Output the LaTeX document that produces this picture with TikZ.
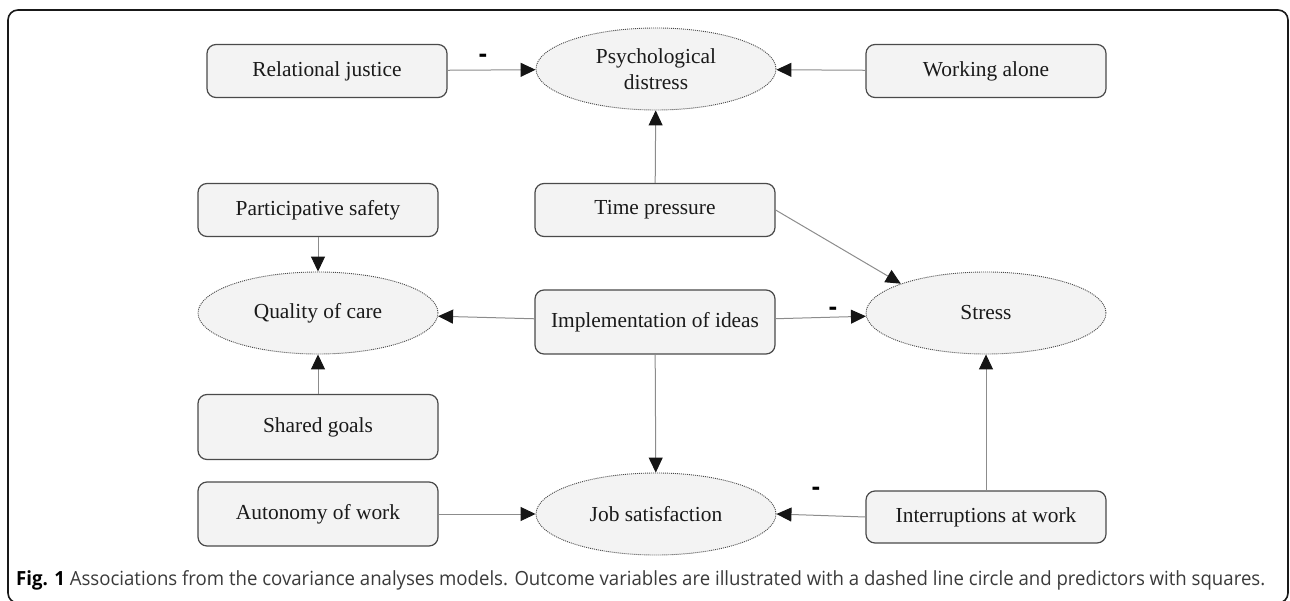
\documentclass[tikz,border=0pt]{standalone}
\usepackage{graphicx}
\usepackage{fontspec}
\setmainfont{Liberation Serif}
\newfontfamily\capfont{Open Sans}
\newfontfamily\minusfont{Liberation Sans}
\usetikzlibrary{arrows.meta,shapes.geometric}
\definecolor{boxfill}{HTML}{F3F3F3}
\definecolor{boxdraw}{HTML}{4A4A4A}
\definecolor{linegray}{HTML}{8C8C8C}
\definecolor{txt}{HTML}{1A1A1A}
\definecolor{captxt}{HTML}{3A3A3A}
\definecolor{tipcol}{HTML}{151515}
\begin{document}
\begin{tikzpicture}[x=1pt,y=-1pt,
  nodefont/.style={font=\fontsize{21.4}{25.7}\selectfont},
  predictor/.style={nodefont, draw=boxdraw, line width=1.2pt, fill=boxfill,
    rounded corners=9pt, minimum width=240pt, minimum height=53pt,
    inner sep=0pt, text=txt, align=center},
  outcome/.style={nodefont, ellipse, draw=boxdraw, line width=0.9pt,
    dash pattern=on 1pt off 1pt, fill=boxfill, minimum width=240pt,
    minimum height=82pt, inner sep=0pt, text=txt, align=center},
  conn/.style={draw=linegray, line width=1pt,
    -{Triangle[length=15pt,width=14pt,fill=tipcol,color=tipcol]}},
  minus/.style={font=\minusfont\fontsize{26}{26}\selectfont\bfseries, inner sep=0pt, text=black}
]
\useasboundingbox (0,0) rectangle (1290,601);
% frame
\draw[line width=1.6pt, draw=black!90, rounded corners=10pt] (8,10) rectangle (1288,603);

% nodes
\node[predictor] (RJ) at (327,71) {Relational justice};
\node[outcome] (PD) at (656,69) {Psychological\\distress};
\node[predictor] (WA) at (986,71) {Working alone};

\node[predictor] (PS) at (318,210) {Participative safety};
\node[predictor] (TP) at (655,210) {Time pressure};

\node[outcome] (QC) at (318,313) {Quality of care};
\node[predictor, minimum height=64pt] (II) at (655,322) {Implementation of ideas};
\node[outcome] (ST) at (986,313) {Stress};

\node[predictor, minimum height=65pt] (SG) at (318,427) {Shared goals};

\node[predictor, minimum height=64pt] (AW) at (318,514) {Autonomy of work};
\node[outcome] (JS) at (656,514) {Job satisfaction};
\node[predictor, minimum height=52pt] (IW) at (986,517) {Interruptions at work};

% connectors
\draw[conn] (RJ) -- (PD);
\draw[conn] (WA) -- (PD);
\draw[conn] (TP) -- (PD);
\draw[conn] (TP.east) -- (ST.north west);
\draw[conn] (II) -- (QC);
\draw[conn] (II) -- (ST);
\draw[conn] (II) -- (JS);
\draw[conn] (PS) -- (QC);
\draw[conn] (SG) -- (QC);
\draw[conn] (AW) -- (JS);
\draw[conn] (IW.west) -- (JS.east);
\draw[conn] (IW) -- (ST);

% minus labels
\node[minus] (m1) at (483,58) {-};
\node[minus] (m2) at (833,311) {-};
\node[minus] (m3) at (816,491) {-};

% caption
\node[anchor=west, inner sep=0pt, text=captxt] (cap) at (16,580)
  {\resizebox{1249pt}{\height}{\capfont\fontsize{19.5}{19.5}\selectfont\textcolor{black}{\textbf{Fig. 1}} Associations from the covariance analyses models. Outcome variables are illustrated with a dashed line circle and predictors with squares.}};
\end{tikzpicture}
\end{document}
